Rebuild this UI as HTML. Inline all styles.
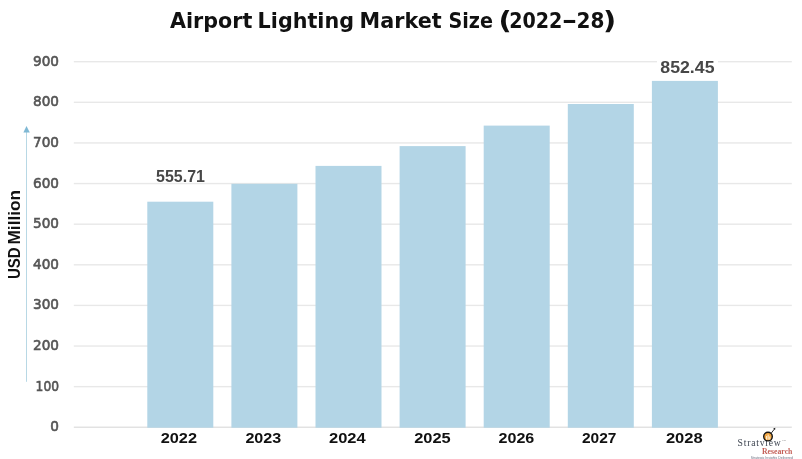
<!DOCTYPE html>
<html lang="en">
<head>
<meta charset="utf-8">
<title>Airport Lighting Market Size (2022-28)</title>
<style>
  html, body { margin: 0; padding: 0; background: #ffffff; }
  body { width: 802px; height: 459px; overflow: hidden; position: relative; }
  svg { position: absolute; left: 0; top: 0; display: block; }
  text { font-family: "Liberation Sans", sans-serif; }
  .title text { font-family: "DejaVu Sans", "Liberation Sans", sans-serif; font-weight: 700; font-size: 20.8px; fill: #111111; }
  .ytick { font-family: "DejaVu Sans", "Liberation Sans", sans-serif; font-weight: 400; font-size: 13.6px; fill: #555555; stroke: #555555; stroke-width: 0.6px; text-anchor: end; }
  .xtick { font-weight: 700; font-size: 15.3px; fill: #111111; }
  .val { font-weight: 700; font-size: 16.3px; fill: #474747; }
  .ylab text { font-weight: 700; font-size: 16.4px; fill: #111111; }
  .grid rect { fill: #e8e8e8; }
  .bars rect { fill: #b3d5e6; }
  .serif { font-family: "Liberation Serif", serif; }
</style>
</head>
<body>
<svg width="802" height="459" viewBox="0 0 802 459">
  <rect x="0" y="0" width="802" height="459" fill="#ffffff"/>

  <!-- title -->
  <g class="title">
    <text x="170" y="27.6" textLength="82.4" lengthAdjust="spacingAndGlyphs">Airport</text>
    <text x="257.6" y="27.6" textLength="96.4" lengthAdjust="spacingAndGlyphs">Lighting</text>
    <text x="359.6" y="27.6" textLength="82" lengthAdjust="spacingAndGlyphs">Market</text>
    <text x="448.4" y="27.6" textLength="44.6" lengthAdjust="spacingAndGlyphs">Size</text>
    <text x="498.6" y="29.3" style="font-size:25.4px" textLength="13.2" lengthAdjust="spacingAndGlyphs">(</text>
    <text x="509.2" y="27.6" textLength="53.2" lengthAdjust="spacingAndGlyphs">2022</text>
    <text x="561.7" y="27.6" textLength="15.5" lengthAdjust="spacingAndGlyphs">-</text>
    <text x="576.5" y="27.6" textLength="27.9" lengthAdjust="spacingAndGlyphs">28</text>
    <text x="603.1" y="29.3" style="font-size:25.4px" textLength="13.2" lengthAdjust="spacingAndGlyphs">)</text>
  </g>

  <!-- gridlines -->
  <g class="grid">
    <rect x="73.8" y="61.00" width="718" height="1.4"/>
    <rect x="73.8" y="101.62" width="718" height="1.4"/>
    <rect x="73.8" y="142.24" width="718" height="1.4"/>
    <rect x="73.8" y="182.86" width="718" height="1.4"/>
    <rect x="73.8" y="223.48" width="718" height="1.4"/>
    <rect x="73.8" y="264.10" width="718" height="1.4"/>
    <rect x="73.8" y="304.72" width="718" height="1.4"/>
    <rect x="73.8" y="345.34" width="718" height="1.4"/>
    <rect x="73.8" y="385.96" width="718" height="1.4"/>
    <rect x="73.8" y="426.63" width="718" height="1.1" style="fill:#d8d8d8"/>
  </g>

  <!-- y tick labels -->
  <g>
    <text class="ytick" x="59" y="65.7">900</text>
    <text class="ytick" x="59" y="106.3">800</text>
    <text class="ytick" x="59" y="146.9">700</text>
    <text class="ytick" x="59" y="187.6">600</text>
    <text class="ytick" x="59" y="228.2">500</text>
    <text class="ytick" x="59" y="268.8">400</text>
    <text class="ytick" x="59" y="309.4">300</text>
    <text class="ytick" x="59" y="350.0">200</text>
    <text class="ytick" x="59" y="390.7" textLength="23.4" lengthAdjust="spacingAndGlyphs">100</text>
    <text class="ytick" x="59" y="431.3">0</text>
  </g>

  <!-- y axis arrow + label -->
  <line x1="26.5" x2="26.5" y1="130" y2="381.8" stroke="#a6cede" stroke-width="0.8"/>
  <path d="M26.5 126 L29.8 132.5 L23.4 132.5 Z" fill="#7fb8d4"/>
  <g class="ylab" transform="translate(19.9 234.5) rotate(-90)">
    <text x="-44.5" y="0" textLength="31.6" lengthAdjust="spacingAndGlyphs">USD</text>
    <text x="-10" y="0" textLength="54.6" lengthAdjust="spacingAndGlyphs">Million</text>
  </g>

  <!-- bars -->
  <g class="bars">
    <rect x="147.3" y="201.7" width="66" height="226.0"/>
    <rect x="231.4" y="183.8" width="66" height="243.9"/>
    <rect x="315.5" y="165.9" width="66" height="261.8"/>
    <rect x="399.6" y="146.1" width="66" height="281.6"/>
    <rect x="483.7" y="125.6" width="66" height="302.1"/>
    <rect x="567.8" y="104.0" width="66" height="323.7"/>
    <rect x="651.9" y="80.9" width="66" height="346.8"/>
  </g>

  <!-- bar value labels -->
  <rect x="657" y="58" width="61" height="8" fill="#ffffff"/>
  <text class="val" x="156.1" y="181.6" textLength="48.8" lengthAdjust="spacingAndGlyphs">555.71</text>
  <text class="val" x="660.3" y="72.8" textLength="54.2" lengthAdjust="spacingAndGlyphs">852.45</text>

  <!-- x tick labels -->
  <g>
    <text class="xtick" x="160.7" y="443.4" textLength="36.3" lengthAdjust="spacingAndGlyphs">2022</text>
    <text class="xtick" x="245.4" y="443.4" textLength="35.9" lengthAdjust="spacingAndGlyphs">2023</text>
    <text class="xtick" x="329.0" y="443.4" textLength="36.7" lengthAdjust="spacingAndGlyphs">2024</text>
    <text class="xtick" x="414.2" y="443.4" textLength="36.5" lengthAdjust="spacingAndGlyphs">2025</text>
    <text class="xtick" x="498.5" y="443.4" textLength="35.8" lengthAdjust="spacingAndGlyphs">2026</text>
    <text class="xtick" x="581.9" y="443.4" textLength="34.5" lengthAdjust="spacingAndGlyphs">2027</text>
    <text class="xtick" x="665.9" y="443.4" textLength="36.8" lengthAdjust="spacingAndGlyphs">2028</text>
  </g>

  <!-- logo -->
  <g>
    <text class="serif" x="737.6" y="445.9" font-size="9.7" fill="#3f4652" textLength="43.2" lengthAdjust="spacing">Stratview</text>
    <text class="serif" x="782" y="441.2" font-size="2.4" fill="#666666">TM</text>
    <text class="serif" x="762" y="453.6" font-size="7.3" font-weight="700" fill="#c45f57" textLength="30.4" lengthAdjust="spacingAndGlyphs">Research</text>
    <text x="750.8" y="458.5" font-size="2.9" fill="#6b7080" textLength="42" lengthAdjust="spacingAndGlyphs">Strategic Insights Delivered</text>
    <line x1="771.2" y1="433.2" x2="774.4" y2="429.1" stroke="#1a1a1a" stroke-width="0.9"/>
    <path d="M775.3 427.7 L775.1 430.1 L773.2 428.5 Z" fill="#1a1a1a"/>
    <circle cx="768" cy="436.6" r="4.3" fill="#f3a640" stroke="#151515" stroke-width="1.4"/>
    <rect x="766" y="436" width="1.1" height="3.6" fill="#fff4e0" opacity="0.85"/>
    <rect x="767.6" y="434.6" width="1.1" height="5" fill="#fff4e0" opacity="0.85"/>
    <rect x="769.2" y="436.4" width="1.1" height="3.2" fill="#fff4e0" opacity="0.85"/>
  </g>
</svg>
</body>
</html>
